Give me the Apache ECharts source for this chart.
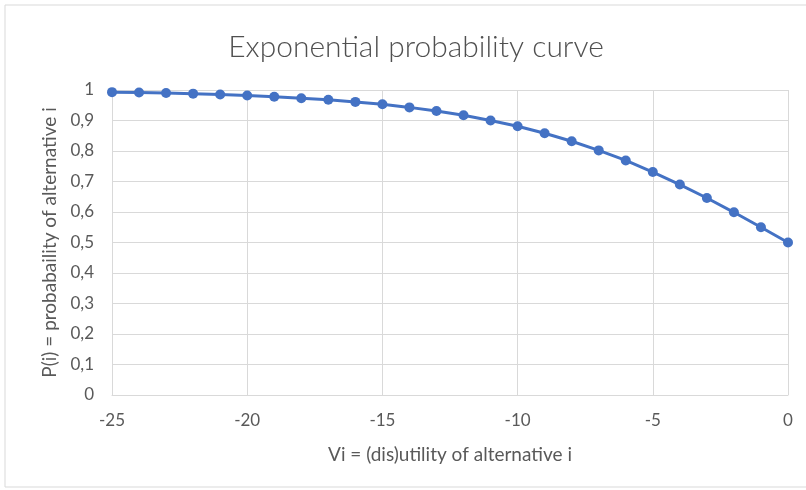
<!DOCTYPE html>
<html><head><meta charset="utf-8">
<script src="https://cdn.jsdelivr.net/npm/echarts@6/dist/echarts.min.js"></script>
<style>html,body{margin:0;padding:0;background:#fff}#c{width:806px;height:490px}</style>
</head><body><div id="c"></div>
<script>
const xValues = [-25,-24,-23,-22,-21,-20,-19,-18,-17,-16,-15,-14,-13,-12,-11,-10,-9,-8,-7,-6,-5,-4,-3,-2,-1,0];
const pValues = [0.993,0.992,0.990,0.988,0.985,0.982,0.978,0.973,0.968,0.961,0.953,0.943,0.931,0.917,0.900,0.881,0.858,0.832,0.802,0.769,0.731,0.690,0.646,0.599,0.550,0.500];
const titleText = 'Exponential probability curve';
const xName = 'Vi = (dis)utility of alternative i';
const yName = 'P(i) = probabaility of alternative i';

const chart = echarts.init(document.getElementById('c'), null, {renderer:'canvas'});
const font = 'Lato, "Open Sans", sans-serif';
chart.setOption({
  animation:false,
  backgroundColor:'#fff',
  graphic:[{type:'rect',shape:{x:5,y:5,width:820,height:482},style:{fill:'none',stroke:'#d9d9d9',lineWidth:1}}],
  title:{text:titleText,left:411,top:27,textAlign:'center',textStyle:{fontFamily:font,fontSize:30,fontWeight:300,color:'#505050'}},
  grid:{left:112,right:18,top:90,bottom:95,containLabel:false},
  xAxis:{type:'value',min:-25,max:0,interval:5,
    name:xName,nameLocation:'middle',nameGap:50,nameTextStyle:{fontFamily:font,fontSize:19,color:'#595959'},
    axisLine:{show:true,lineStyle:{color:'#d9d9d9',width:1}},axisTick:{show:false},
    axisLabel:{fontFamily:font,fontSize:17,color:'#595959',margin:17},
    splitLine:{show:true,lineStyle:{color:'#d9d9d9',width:1}}},
  yAxis:{type:'value',min:0,max:1,interval:0.1,
    name:yName,nameLocation:'middle',nameGap:53,nameTextStyle:{fontFamily:font,fontSize:19,color:'#595959'},
    axisLine:{show:false},axisTick:{show:false},
    axisLabel:{fontFamily:font,fontSize:17,color:'#595959',margin:18,formatter:v=>String(Math.round(v*10)/10).replace('.',',')},
    splitLine:{show:true,lineStyle:{color:'#d9d9d9',width:1}}},
  series:[{type:'line',data:xValues.map((x,i)=>[x,pValues[i]]),
    lineStyle:{color:'#4472C4',width:3},itemStyle:{color:'#4472C4'},
    symbol:'circle',symbolSize:10,showSymbol:true,smooth:false}]
});
</script></body></html>
